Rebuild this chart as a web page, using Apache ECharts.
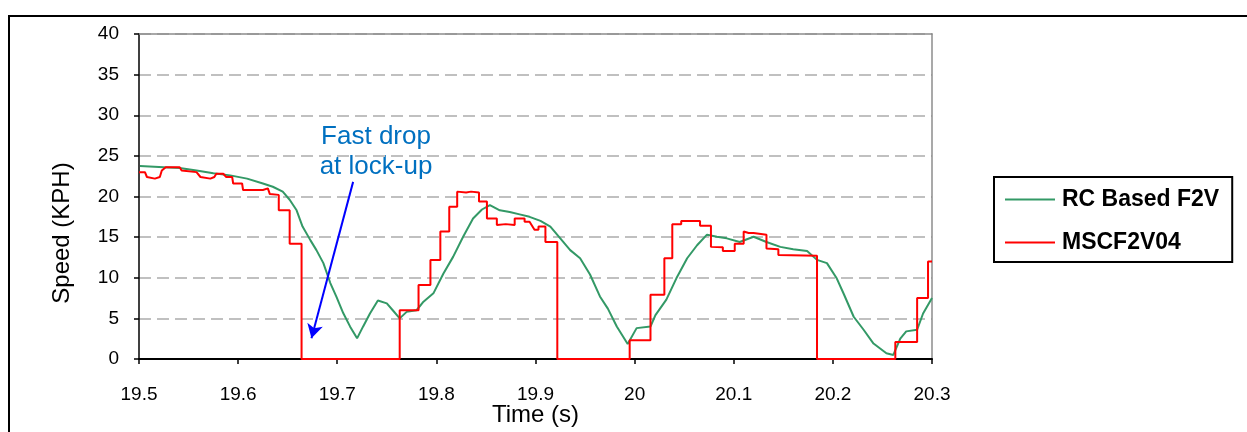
<!DOCTYPE html>
<html>
<head>
<meta charset="utf-8">
<script src="https://cdn.jsdelivr.net/npm/echarts@6/dist/echarts.min.js"></script>
<style>
  html, body { margin: 0; padding: 0; background: #fff; }
  #chart { width: 1247px; height: 432px; }
</style>
</head>
<body>
<div id="chart"></div>
<script>
const xTicks = [19.5, 19.6, 19.7, 19.8, 19.9, 20, 20.1, 20.2, 20.3]
const yTicks = [0, 5, 10, 15, 20, 25, 30, 35, 40]
const seriesNames = ['RC Based F2V', 'MSCF2V04']

// [time (s), speed (KPH)]
const rcBased = [
  [19.501, 23.75], [19.525, 23.6], [19.541, 23.5], [19.558, 23.2], [19.575, 22.85],
  [19.592, 22.6], [19.609, 22.2], [19.625, 21.6], [19.635, 21.2], [19.645, 20.6],
  [19.652, 19.6], [19.659, 18.3], [19.665, 16.3], [19.673, 14.6], [19.679, 13.4],
  [19.686, 11.8], [19.693, 9.35], [19.699, 7.7], [19.706, 5.66], [19.713, 3.98],
  [19.720, 2.54], [19.726, 3.98], [19.733, 5.6], [19.741, 7.2], [19.750, 6.85],
  [19.756, 6.0], [19.763, 5.0], [19.770, 5.8], [19.780, 6.0], [19.787, 7.05],
  [19.797, 8.08], [19.807, 10.5], [19.817, 12.6], [19.827, 15.05], [19.837, 17.3],
  [19.846, 18.4], [19.854, 18.95], [19.864, 18.3], [19.874, 18.1], [19.884, 17.8],
  [19.894, 17.5], [19.905, 17.0], [19.915, 16.3], [19.925, 14.85], [19.935, 13.4],
  [19.945, 12.4], [19.955, 10.4], [19.965, 7.7], [19.973, 6.2], [19.982, 4.0],
  [19.993, 1.85], [20.002, 3.8], [20.016, 4.0], [20.021, 5.4], [20.032, 7.3],
  [20.042, 9.9], [20.053, 12.4], [20.063, 14.0], [20.073, 15.3], [20.083, 15.05],
  [20.093, 14.85], [20.106, 14.4], [20.120, 15.05], [20.133, 14.4], [20.147, 13.8],
  [20.160, 13.5], [20.174, 13.3], [20.184, 12.2], [20.194, 11.8], [20.204, 9.9],
  [20.211, 8.0], [20.221, 5.2], [20.231, 3.6], [20.241, 1.9], [20.254, 0.7],
  [20.261, 0.5], [20.268, 2.5], [20.274, 3.4], [20.285, 3.6], [20.291, 5.6],
  [20.300, 7.5]
]

const mscf = [
  [19.500, 23.0], [19.506, 23.0], [19.508, 22.4], [19.516, 22.2], [19.521, 22.4],
  [19.523, 23.2], [19.527, 23.6], [19.541, 23.6], [19.543, 23.2], [19.558, 23.0],
  [19.562, 22.4], [19.572, 22.2], [19.576, 22.4], [19.578, 22.8], [19.585, 22.8],
  [19.588, 22.4], [19.594, 22.4], [19.595, 21.6], [19.604, 21.6], [19.605, 20.8],
  [19.625, 20.8], [19.627, 21.0], [19.630, 21.0], [19.632, 20.3], [19.641, 20.2],
  [19.641, 18.3], [19.652, 18.3], [19.652, 14.2], [19.664, 14.2], [19.664, 0],
  [19.763, 0], [19.763, 6.0], [19.782, 6.0], [19.782, 9.1], [19.794, 9.1],
  [19.794, 12.2], [19.804, 12.2], [19.804, 15.7], [19.813, 15.7], [19.813, 18.75],
  [19.821, 18.75], [19.821, 20.6], [19.830, 20.5], [19.835, 20.6], [19.843, 20.5],
  [19.843, 19.4], [19.851, 19.4], [19.851, 17.3], [19.861, 17.3], [19.861, 16.5],
  [19.870, 16.6], [19.879, 16.5], [19.879, 17.3], [19.889, 17.3], [19.889, 16.9],
  [19.894, 16.9], [19.899, 15.9], [19.903, 15.9], [19.903, 16.3], [19.910, 16.3],
  [19.910, 14.4], [19.922, 14.4], [19.922, 0], [19.995, 0], [19.995, 2.3],
  [20.016, 2.3], [20.016, 7.9], [20.030, 7.9], [20.030, 12.4], [20.038, 12.4],
  [20.038, 16.6], [20.047, 16.6], [20.047, 17.0], [20.066, 17.0], [20.066, 16.4],
  [20.077, 16.4], [20.077, 13.8], [20.089, 13.75], [20.089, 13.3], [20.101, 13.3],
  [20.101, 14.2], [20.110, 14.2], [20.110, 15.7], [20.115, 15.5], [20.120, 15.5],
  [20.120, 15.3], [20.133, 15.3], [20.133, 13.6], [20.145, 13.5], [20.145, 12.8],
  [20.184, 12.7], [20.184, 0], [20.263, 0], [20.263, 2.1], [20.285, 2.1],
  [20.285, 7.5], [20.296, 7.5], [20.296, 12.0], [20.300, 12.0]
]

// arrow for the "Fast drop at lock-up" note, [time, speed]
const arrowFrom = [19.716, 21.8]
const arrowTo = [19.674, 2.55]

const font = '"Liberation Sans", Arial, sans-serif'
const chart = echarts.init(document.getElementById('chart'))

const xStep = +(xTicks[1] - xTicks[0]).toFixed(3)
const yStep = yTicks[1] - yTicks[0]

const option = {
  animation: false,
  backgroundColor: '#fff',
  grid: { left: 139, right: 315, top: 34, bottom: 73, containLabel: false, outerBoundsMode: 'none' },
  legend: {
    orient: 'vertical',
    left: 994,
    top: 177,
    data: seriesNames,
    icon: 'rect',
    itemWidth: 50,
    itemHeight: 2,
    itemGap: 20,
    padding: [11, 13, 8, 11],
    borderColor: '#000',
    borderWidth: 2,
    textStyle: { fontFamily: font, fontSize: 23, fontWeight: 'bold', color: '#000', padding: [0, 0, 0, 2] },
  },
  xAxis: [{
    type: 'value',
    min: xTicks[0],
    max: xTicks[xTicks.length - 1],
    interval: xStep,
    name: 'Time (s)',
    nameLocation: 'middle',
    nameGap: 44,
    nameMoveOverlap: false,
    nameTextStyle: { fontFamily: font, fontSize: 24, color: '#000' },
    axisLine: { onZero: false, lineStyle: { color: '#000', width: 2 } },
    axisTick: { show: true, length: 5, lineStyle: { color: '#000', width: 1.5 } },
    axisLabel: { margin: 26, fontFamily: font, fontSize: 19, color: '#000' },
    splitLine: { show: false },
  }, {
    type: 'value',
    position: 'top',
    min: xTicks[0],
    max: xTicks[xTicks.length - 1],
    interval: xStep,
    axisLine: { show: true, onZero: false, lineStyle: { color: '#8c8c8c', width: 1.5 } },
    axisTick: { show: false },
    axisLabel: { show: false },
    splitLine: { show: false },
  }],
  yAxis: [{
    type: 'value',
    min: yTicks[0],
    max: yTicks[yTicks.length - 1],
    interval: yStep,
    axisLine: { show: true, onZero: false, lineStyle: { color: '#000', width: 1.5 } },
    axisTick: { show: true, length: 5, lineStyle: { color: '#000', width: 1.5 } },
    axisLabel: { margin: 20, padding: [4, 0, 0, 0], fontFamily: font, fontSize: 19, color: '#000' },
    splitLine: { show: true, lineStyle: { color: '#c0c0c0', width: 2, type: [12, 6] } },
  }, {
    type: 'value',
    position: 'right',
    min: yTicks[0],
    max: yTicks[yTicks.length - 1],
    interval: yStep,
    axisLine: { show: true, onZero: false, lineStyle: { color: '#8c8c8c', width: 1.5 } },
    axisTick: { show: false },
    axisLabel: { show: false },
    splitLine: { show: false },
  }],
  graphic: [
    {
      type: 'rect',
      shape: { x: 9, y: 16, width: 1400, height: 600 },
      style: { fill: 'none', stroke: '#000', lineWidth: 2 },
      silent: true,
    },
    {
      type: 'text',
      x: 62,
      y: 233,
      rotation: Math.PI / 2,
      style: {
        text: 'Speed (KPH)',
        font: '24px ' + font,
        fill: '#000',
        align: 'center',
        verticalAlign: 'middle',
      },
    },
    {
      type: 'text',
      x: 376,
      y: 152,
      style: {
        text: 'Fast drop\nat lock-up',
        font: '26px ' + font,
        lineHeight: 30,
        fill: '#0070c0',
        align: 'center',
        verticalAlign: 'middle',
      },
    },
  ],
  series: [
    {
      name: seriesNames[0],
      type: 'line',
      data: rcBased,
      showSymbol: false,
      lineStyle: { color: '#339966', width: 2 },
      itemStyle: { color: '#339966' },
      z: 3,
    },
    {
      name: seriesNames[1],
      type: 'line',
      data: mscf,
      showSymbol: false,
      lineStyle: { color: '#ff0000', width: 2 },
      itemStyle: { color: '#ff0000' },
      z: 4,
      markLine: {
        silent: true,
        symbol: ['none', 'arrow'],
        symbolSize: [12, 14],
        label: { show: false },
        lineStyle: { color: '#0000ff', width: 2, type: 'solid' },
        data: [[{ coord: arrowFrom }, { coord: arrowTo }]],
      },
    },
  ],
}

chart.setOption(option)
window.addEventListener('resize', () => chart.resize())
</script>
</body>
</html>
